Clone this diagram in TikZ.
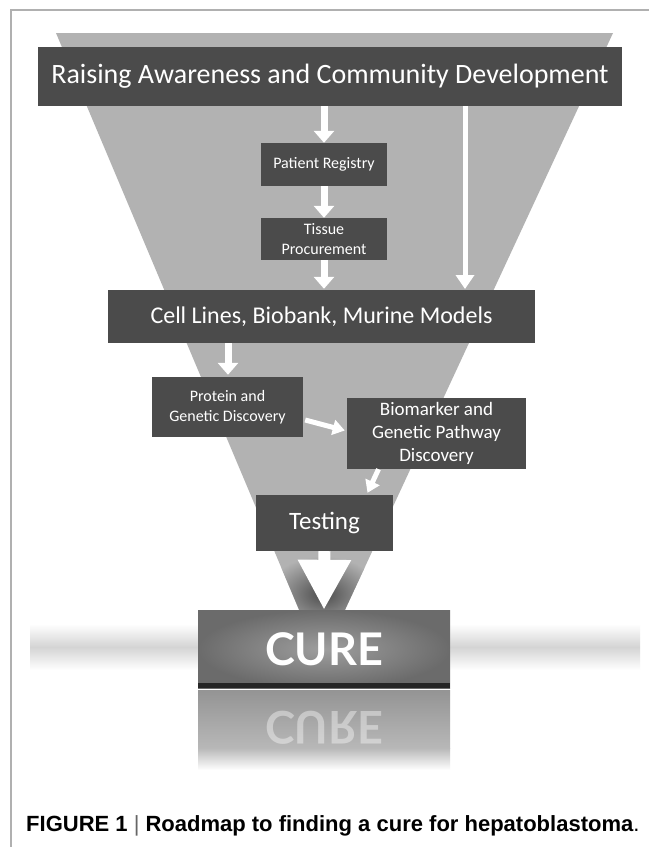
\documentclass[tikz,border=0pt]{standalone}
\usepackage{fontspec}
\setmainfont{Carlito}
\newfontfamily\capfont{Liberation Sans}
\newfontfamily\curefont{Lato}
\usetikzlibrary{arrows.meta,calc}
\definecolor{funnelc}{HTML}{B2B2B2}
\definecolor{boxc}{HTML}{4B4B4B}
\definecolor{framec}{HTML}{B0B0B0}
\definecolor{bandc}{HTML}{D4D4D4}
\begin{document}
\begin{tikzpicture}[x=1pt,y=-1pt,
  dbox/.style={fill=boxc, text=white, inner sep=0pt, align=center},
  warrow/.style={draw=white, line width=7pt, -{Triangle[width=20pt,length=12pt]}},
  thinarrow/.style={draw=white, line width=5pt, -{Triangle[width=18pt,length=14pt]}},
  slantarrow/.style={draw=white, line width=5pt, -{Triangle[width=15pt,length=12pt]}}]
\useasboundingbox (0,0) rectangle (649,847);
\fill[white] (0,0) rectangle (649,847);
% frame
\draw[framec, line width=1.5pt] (11,847) -- (11,10) -- (649,10);
% funnel
\fill[funnelc] (56,33) -- (613,33) -- (344,612) -- (300,612) -- cycle;
% shadow round the big arrow head
\begin{scope}
  \clip (56,33) -- (613,33) -- (344,612) -- (300,612) -- cycle;
  \clip (0,553) rectangle (649,612);
  \shade[inner color=black!70, outer color=funnelc] (323,594) ellipse (56pt and 38pt);
\end{scope}
% horizontal band
\shade[top color=white, bottom color=white, middle color=bandc] (30,624) rectangle (640,670);
% nodes
\node[dbox, minimum width=584pt, minimum height=59pt, font=\fontsize{28}{34}\selectfont] (title) at (330,76.5) {Raising Awareness and Community Development};
\node[dbox, minimum width=126pt, minimum height=43pt, font=\fontsize{16}{20}\selectfont] (reg) at (324,164.5) {Patient Registry};
\node[dbox, minimum width=126pt, minimum height=42pt, font=\fontsize{16}{20}\selectfont] (tissue) at (324,239) {Tissue\\Procurement};
\node[dbox, minimum width=427pt, minimum height=53pt, font=\fontsize{24}{29}\selectfont] (cell) at (321.5,316.5) {Cell Lines, Biobank, Murine Models};
\node[dbox, minimum width=151pt, minimum height=60pt, font=\fontsize{16}{20}\selectfont] (protein) at (227.5,407) {Protein and\\Genetic Discovery};
\node[dbox, minimum width=179pt, minimum height=71pt, font=\fontsize{19}{23}\selectfont] (bio) at (436.5,433.5) {Biomarker and\\Genetic Pathway\\Discovery};
\node[dbox, minimum width=137pt, minimum height=56pt, font=\fontsize{25}{30}\selectfont] (testing) at (324.5,523) {Testing};
% reflection of the cure box
\shade[top color=black!42, bottom color=black!28] (198,690) rectangle (450,748);
\shade[top color=black!28, bottom color=white] (198,748) rectangle (450,770);
\node[text=white, opacity=0.4, font=\curefont\bfseries\fontsize{45}{50}\selectfont] (refl) at (324,728) {\scalebox{1}[-1]{CURE}};
% cure box
\node[inner sep=0pt, minimum width=252pt, minimum height=78pt, shading=radial, inner color=black!38, outer color=black!58, text=white, font=\curefont\bfseries\fontsize{45}{50}\selectfont] (cure) at (324,649) {CURE};
\fill[black!85] ($(cure.south west)+(0,-5)$) rectangle (cure.south east);
% connectors
\coordinate (rtop) at (465,106);
\coordinate (rbot) at (465,289);
\draw[warrow] (title.south -| reg.north) -- (reg.north);
\draw[warrow] (reg.south) -- (tissue.north);
\draw[warrow] (tissue.south) -- ($(cell.north -| tissue.south)+(0,-1)$);
\draw[thinarrow] (rtop) -- (rbot);
\draw[warrow] (cell.south -| 228,0) -- ($(protein.north -| 228,0)+(0,-2)$);
\draw[slantarrow] ($(protein.east)+(2,13)$) -- ($(bio.west)+(-2,-3)$);
\draw[slantarrow] ($(bio.south)+(-58,0)$) -- ($(testing.north)+(43,-2)$);
\draw[white, line width=12pt, -{Triangle[width=50pt,length=50pt]}] (testing.south) -- (cure.north);
% caption
\node[anchor=base west, inner sep=0pt, font=\capfont\bfseries\fontsize{22}{26}\selectfont] (cap) at (26,831) {FIGURE 1 {\mdseries\color{black!60}|} Roadmap to finding a cure for hepatoblastoma{\mdseries .}};
\end{tikzpicture}
\end{document}
